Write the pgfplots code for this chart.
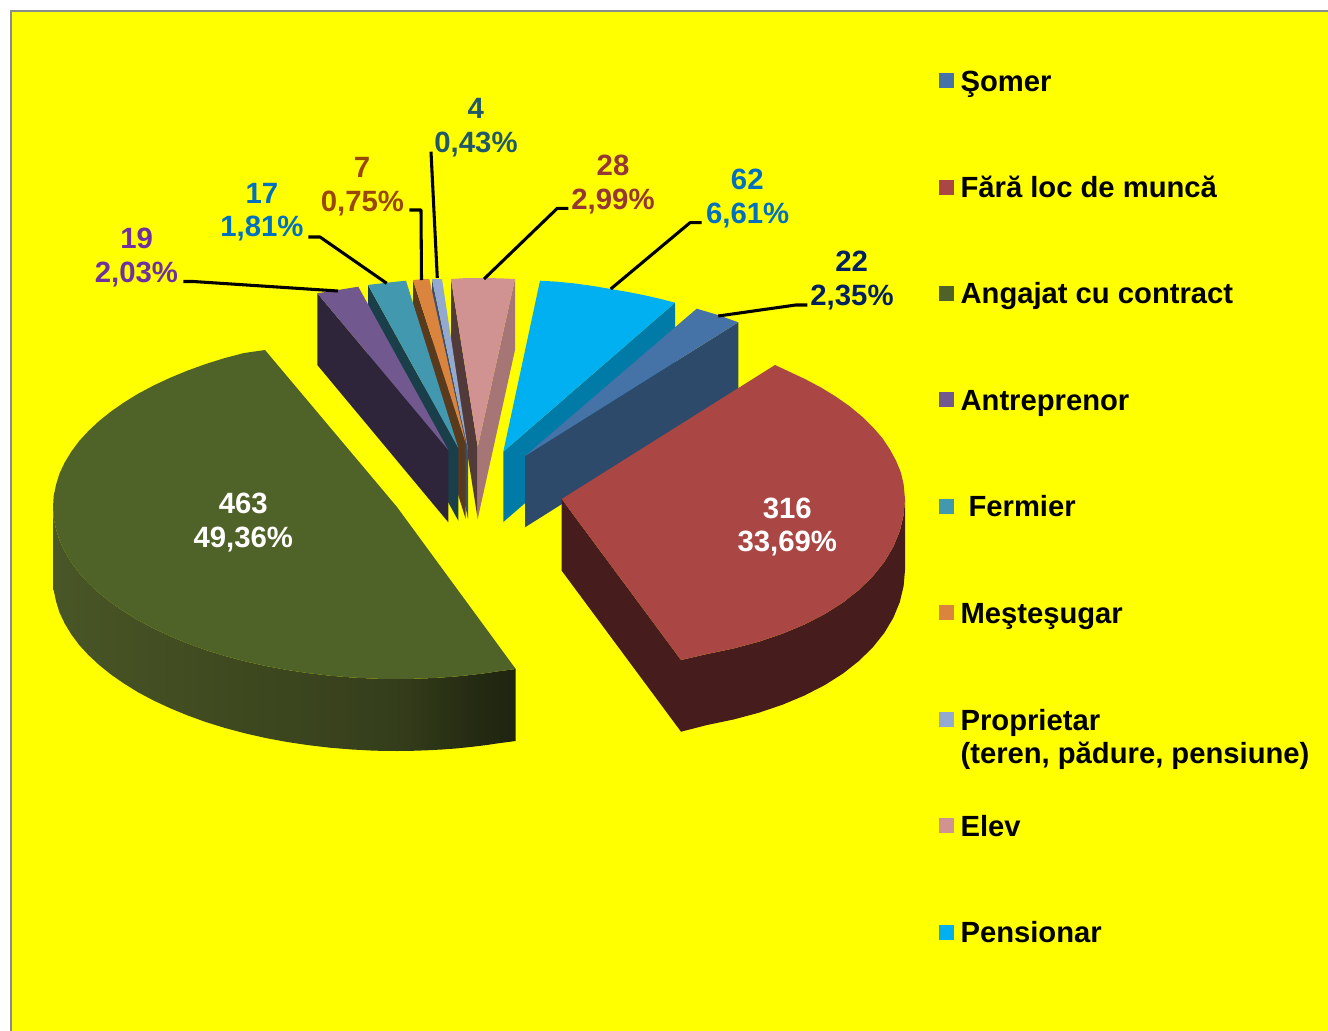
\documentclass[border=0pt]{standalone}
\usepackage{fontspec}
\setmainfont{Liberation Sans}
\usepackage{pgfplots}
\pgfplotsset{compat=1.18}
\definecolor{bgyellow}{rgb}{1,1,0}
\definecolor{cpurple}{HTML}{7030A0}
\definecolor{cblue}{HTML}{0070C0}
\definecolor{cbrown}{HTML}{984807}
\definecolor{cteal}{HTML}{215968}
\definecolor{cred}{HTML}{953735}
\definecolor{cnavy}{HTML}{002060}
\pgfdeclarehorizontalshading{greenside}{100bp}{
 rgb(0bp)=(0.286,0.337,0.149);
 rgb(25bp)=(0.286,0.337,0.149);
 rgb(40bp)=(0.255,0.298,0.129);
 rgb(62bp)=(0.208,0.243,0.106);
 rgb(70bp)=(0.145,0.173,0.075);
 rgb(75bp)=(0.118,0.141,0.063);
 rgb(100bp)=(0.118,0.141,0.063)}
\newcommand{\lab}[3]{\node[anchor=base,text=#3,inner sep=0pt] at (axis cs:#1) {\fontsize{22pt}{26pt}\selectfont\bfseries #2};}
\newcommand{\leg}[2]{\node[anchor=base west,inner sep=0pt] at (axis cs:#1) {\fontsize{21.9pt}{26pt}\selectfont\bfseries #2};}
\begin{document}
\begin{tikzpicture}
\begin{axis}[
  width=996pt,height=773.25pt,scale only axis,
  xmin=0,xmax=1328,ymin=0,ymax=1031,y dir=reverse,
  hide axis,enlargelimits=false,clip=true,
  every axis plot/.append style={line join=round}]
% page
\addplot[fill=white,draw=none] coordinates {(0,0)(1328,0)(1328,1031)(0,1031)} --cycle;
\addplot[fill=black!45,draw=none] coordinates {(9.5,9.5)(1328,9.5)(1328,1031)(9.5,1031)} --cycle;
\addplot[fill=bgyellow,draw=none] coordinates {(12,12)(1328,12)(1328,1031)(12,1031)} --cycle;
% Pensionar
\addplot[fill={rgb,255:red,0;green,123;blue,167},draw=none] coordinates {(503.3,451.7)(675,302.7)(675,373)(503.3,522)} --cycle;
\addplot[fill={rgb,255:red,0;green,176;blue,240},draw=none] coordinates {(503.3,451.7)(540,280.7)(556,281.6)(573.3,283.3)(592,285.8)(610.7,289)(627,291.8)(643.3,295)(660,298.8)(675,302.7)} --cycle;
% Somer
\addplot[fill={rgb,255:red,45;green,74;blue,107},draw=none] coordinates {(525,456)(738.3,322.3)(738.3,393)(525,527.3)} --cycle;
\addplot[fill={rgb,255:red,69;green,114;blue,167},draw=none] coordinates {(525,456)(696.7,308.7)(718,315)(738.3,322.3)} --cycle;
% Fara loc de munca
\addplot[fill={rgb,255:red,70;green,28;blue,28},draw=none] coordinates {(561.7,499)(681,660)(681,731.7)(561.7,570.7)} --cycle;
\addplot[fill={rgb,255:red,70;green,28;blue,28},draw=none] coordinates {(905,499)(903.6,515.1)(899.8,531.1)(893.3,546.8)(884.4,561.8)(872.8,576.3)(859,589.9)(842.9,602.6)(824.7,614.1)(804.5,624.5)(782.5,633.7)(758.9,641.7)(733.5,648.5)(707.1,654)(681,660)(681,731.7)(707.1,725)(733.5,719.5)(758.9,712.7)(782.5,704.7)(804.5,695.5)(824.7,685.1)(842.9,673.6)(859,660.9)(872.8,647.3)(884.4,632.8)(893.3,617.8)(899.8,602.1)(903.6,586.1)(905,570)} --cycle;
\addplot[fill={rgb,255:red,170;green,70;blue,67},draw=none] coordinates {(561.7,499)(775,365)(791.5,372.7)(804.5,378.8)(821,387.5)(836,396.7)(849.8,406.4)(862.1,416.6)(872.8,427.1)(882.4,438.1)(889.9,449.4)(896.1,460.8)(900.9,472.5)(903.6,484.2)(905,499)(903.6,515.1)(899.8,531.1)(893.3,546.8)(884.4,561.8)(872.8,576.3)(859,589.9)(842.9,602.6)(824.7,614.1)(804.5,624.5)(782.5,633.7)(758.9,641.7)(733.5,648.5)(707.1,654)(681,660)} --cycle;
% Angajat cu contract
\addplot[shading=greenside,draw=none] coordinates {(53,507)(53.7,518.2)(56.1,529.5)(59.5,540.5)(64.7,551.5)(71.2,562.2)(79.1,572.9)(88.4,583)(99.1,593)(111.1,602.6)(124.2,611.7)(138.3,620.4)(153.8,628.6)(170.3,636.3)(187.5,643.4)(205.7,650)(225,656)(245,661.3)(265.2,665.9)(286.6,669.9)(307.9,673.1)(329.9,675.7)(352,677.5)(374.6,678.7)(397,679)(412.1,678.8)(427,678.3)(442,677.5)(456.9,676.4)(471.3,674.9)(486.1,673.1)(497.5,671.4)(515.7,669)(515.7,741)(497.5,743.4)(486.1,745.1)(471.3,746.9)(456.9,748.4)(442,749.5)(427,750.3)(412.1,750.8)(397,751)(374.6,750.7)(352,749.5)(329.9,747.7)(307.9,745.1)(286.6,741.9)(265.2,737.9)(245,733.3)(225,728)(205.7,722)(187.5,715.4)(170.3,708.3)(153.8,700.6)(138.3,692.4)(124.2,683.7)(111.1,674.6)(99.1,665)(88.4,655)(79.1,644.9)(71.2,634.2)(64.7,623.5)(59.5,612.5)(56.1,601.5)(53.7,590.2)(53,579)} --cycle;
\addplot[fill={rgb,255:red,79;green,98;blue,40},draw=none] coordinates {(265,350)(243.6,353.1)(225,358)(205.7,364)(187.5,370.6)(170.3,377.7)(153.8,385.4)(138.3,393.6)(124.2,402.3)(111.1,411.4)(99.1,421)(88.4,431)(79.1,441.1)(71.2,451.8)(64.7,462.5)(59.5,473.5)(56.1,484.5)(53.7,495.8)(53,507)(53.7,518.2)(56.1,529.5)(59.5,540.5)(64.7,551.5)(71.2,562.2)(79.1,572.9)(88.4,583)(99.1,593)(111.1,602.6)(124.2,611.7)(138.3,620.4)(153.8,628.6)(170.3,636.3)(187.5,643.4)(205.7,650)(225,656)(245,661.3)(265.2,665.9)(286.6,669.9)(307.9,673.1)(329.9,675.7)(352,677.5)(374.6,678.7)(397,679)(412.1,678.8)(427,678.3)(442,677.5)(456.9,676.4)(471.3,674.9)(486.1,673.1)(497.5,671.4)(515.7,669)(397,507)} --cycle;
% Elev
\addplot[fill={rgb,255:red,83;green,58;blue,58},draw=none] coordinates {(451,279)(477.7,447)(477.7,519)(451,350)} --cycle;
\addplot[fill={rgb,255:red,166;green,118;blue,118},draw=none] coordinates {(515,279)(477.7,447)(477.7,519)(515,350)} --cycle;
\addplot[fill={rgb,255:red,209;green,147;blue,146},draw=none] coordinates {(451,279)(467,278)(483,278)(499,278.3)(515,279)(477.7,447)} --cycle;
% Proprietar
\addplot[fill={rgb,255:red,61;green,80;blue,112},draw=none] coordinates {(432,279)(468,450)(468,519)(432,350)} --cycle;
\addplot[fill={rgb,255:red,147;green,169;blue,207},draw=none] coordinates {(432,279)(437,279)(442,279)(468,450)} --cycle;
% Mestesugar
\addplot[fill={rgb,255:red,90;green,58;blue,28},draw=none] coordinates {(413,280)(465.7,443)(465.7,519)(413,351)} --cycle;
\addplot[fill={rgb,255:red,219;green,132;blue,61},draw=none] coordinates {(413,280)(421,279.3)(429.3,279)(465.7,443)} --cycle;
% Fermier
\addplot[fill={rgb,255:red,26;green,63;blue,75},draw=none] coordinates {(368,285)(458.3,448)(458.3,520.7)(368,356)} --cycle;
\addplot[fill={rgb,255:red,65;green,152;blue,175},draw=none] coordinates {(368,285)(387,282.7)(406,280.7)(458.3,448)} --cycle;
% Antreprenor
\addplot[fill={rgb,255:red,46;green,37;blue,58},draw=none] coordinates {(317.3,293.3)(448.3,450)(448.3,522.3)(317.3,365)} --cycle;
\addplot[fill={rgb,255:red,113;green,88;blue,143},draw=none] coordinates {(317.3,293.3)(338,290)(358.3,286.7)(448.3,450)} --cycle;
% leader lines
\addplot[black,line width=2.3pt] coordinates {(183.3,281.5)(193.3,281.5)(338,291)};
\addplot[black,line width=2.3pt] coordinates {(308.3,237)(320,237)(386.7,283.3)};
\addplot[black,line width=2.3pt] coordinates {(409.3,210)(421,210)(421.5,280)};
\addplot[black,line width=2.3pt] coordinates {(431,151.7)(437.3,278)};
\addplot[black,line width=2.3pt] coordinates {(568.3,208.3)(557.3,208.3)(484,279)};
\addplot[black,line width=2.3pt] coordinates {(701.7,222.7)(690,222.7)(610.7,289)};
\addplot[black,line width=2.3pt] coordinates {(807.3,305)(795.7,305)(718.3,316)};
% legend keys
\addplot[fill={rgb,255:red,69;green,114;blue,167},draw=none] coordinates {(939,72.7)(954,72.7)(954,87.7)(939,87.7)} --cycle;
\addplot[fill={rgb,255:red,170;green,70;blue,67},draw=none] coordinates {(939,180)(954,180)(954,195)(939,195)} --cycle;
\addplot[fill={rgb,255:red,79;green,98;blue,40},draw=none] coordinates {(939,286)(954,286)(954,301)(939,301)} --cycle;
\addplot[fill={rgb,255:red,113;green,88;blue,143},draw=none] coordinates {(939,392.3)(954,392.3)(954,407.3)(939,407.3)} --cycle;
\addplot[fill={rgb,255:red,65;green,152;blue,175},draw=none] coordinates {(939,499)(954,499)(954,514)(939,514)} --cycle;
\addplot[fill={rgb,255:red,219;green,132;blue,61},draw=none] coordinates {(939,605)(954,605)(954,620)(939,620)} --cycle;
\addplot[fill={rgb,255:red,147;green,169;blue,207},draw=none] coordinates {(939,712)(954,712)(954,727)(939,727)} --cycle;
\addplot[fill={rgb,255:red,209;green,147;blue,146},draw=none] coordinates {(939,818)(954,818)(954,833)(939,833)} --cycle;
\addplot[fill={rgb,255:red,0;green,176;blue,240},draw=none] coordinates {(939,925)(954,925)(954,940)(939,940)} --cycle;
% legend text
\leg{960.3,91}{Şomer}
\leg{960.3,197}{Fără loc de muncă}
\leg{960.3,303}{Angajat cu contract}
\leg{960.3,410.3}{Antreprenor}
\leg{968.3,516}{Fermier}
\leg{960.3,623.3}{Meşteşugar}
\leg{960.3,730}{Proprietar}
\leg{960.3,763}{(teren, pădure, pensiune)}
\leg{960.3,836}{Elev}
\leg{960.3,942}{Pensionar}
% data labels
\lab{136.7,248}{19}{cpurple}
\lab{136.5,282.3}{2,03\%}{cpurple}
\lab{262,203.3}{17}{cblue}
\lab{262,236.7}{1,81\%}{cblue}
\lab{362,177.3}{7}{cbrown}
\lab{362.5,211.3}{0,75\%}{cbrown}
\lab{475.7,118.3}{4}{cteal}
\lab{476,152.7}{0,43\%}{cteal}
\lab{613,175}{28}{cred}
\lab{613,209.3}{2,99\%}{cred}
\lab{747.3,189}{62}{cblue}
\lab{747.7,223.7}{6,61\%}{cblue}
\lab{851.7,271}{22}{cnavy}
\lab{852,305}{2,35\%}{cnavy}
\lab{243.3,513}{463}{white}
\lab{243.3,547.4}{49,36\%}{white}
\lab{787.3,518.3}{316}{white}
\lab{787.3,551.7}{33,69\%}{white}
\end{axis}
\end{tikzpicture}
\end{document}
